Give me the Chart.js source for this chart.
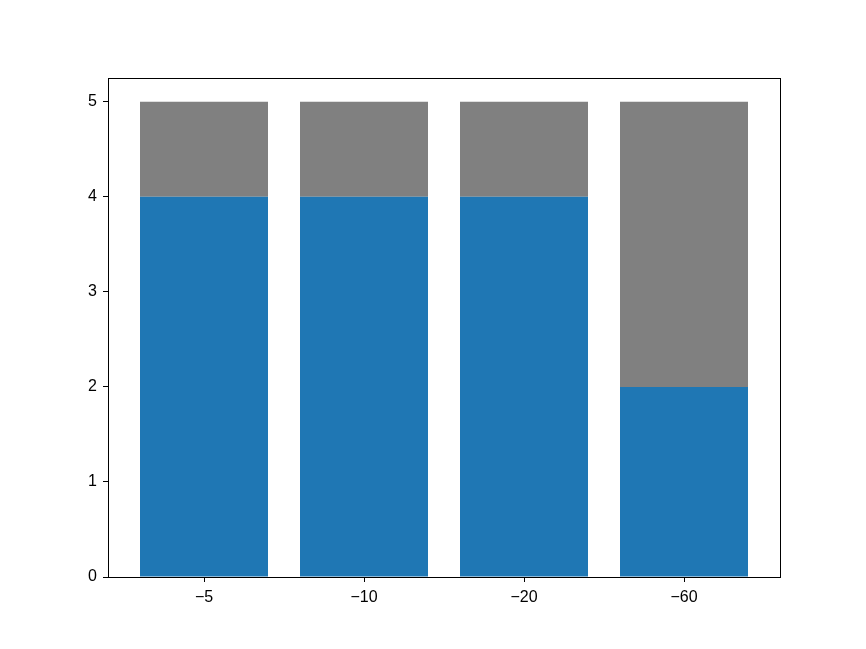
<!DOCTYPE html>
<html>
<head>
<meta charset="utf-8">
<script src="https://cdn.jsdelivr.net/npm/chart.js@4/dist/chart.umd.min.js"></script>
<style>
  html, body { margin: 0; padding: 0; background: #fff; }
  #wrap { width: 866px; height: 649px; }
</style>
</head>
<body>
<div id="wrap"><canvas id="barChart"></canvas></div>
<script>
// dados do gráfico
const categories = ['\u22125', '\u221210', '\u221220', '\u221260'];
const bottomValues = [4, 4, 4, 2];
const topValues = [1, 1, 1, 3];
const yTicks = [0, 1, 2, 3, 4, 5];

// contorno completo dos eixos (estilo matplotlib)
const frameBox = {
    id: 'frameBox',
    afterDraw(chart) {
        const { ctx, chartArea } = chart;
        ctx.save();
        ctx.strokeStyle = '#000';
        ctx.lineWidth = 1;
        ctx.strokeRect(chartArea.left + 0.5, chartArea.top + 0.5,
            chartArea.right - chartArea.left, chartArea.bottom - chartArea.top);
        ctx.restore();
    }
};

const tickFont = { family: 'Liberation Sans', size: 16 };

new Chart(document.getElementById('barChart'), {
    type: 'bar',
    data: {
        datasets: [
            {
                label: 'bottom',
                data: bottomValues.map((v, i) => ({ x: i, y: v })),
                backgroundColor: '#1f77b4',
                barPercentage: 0.8,
                categoryPercentage: 1
            },
            {
                label: 'top',
                data: topValues.map((v, i) => ({ x: i, y: v })),
                backgroundColor: '#808080',
                barPercentage: 0.8,
                categoryPercentage: 1
            }
        ]
    },
    options: {
        responsive: true,
        maintainAspectRatio: false,
        animation: false,
        layout: { padding: { left: 0, top: 78, right: 86, bottom: 0 } },
        scales: {
            x: {
                type: 'linear',
                stacked: true,
                offset: false,
                min: -0.6,
                max: 3.6,
                afterBuildTicks: (scale) => {
                    scale.ticks = categories.map((c, i) => ({ value: i }));
                },
                afterFit: (scale) => { scale.height = 72; },
                ticks: {
                    color: '#000',
                    font: tickFont,
                    padding: 6,
                    maxRotation: 0,
                    callback: (value) => categories[value]
                },
                grid: {
                    offset: false,
                    drawOnChartArea: false,
                    drawTicks: true,
                    tickLength: 5,
                    color: '#000'
                },
                border: { display: true, color: '#000' }
            },
            y: {
                stacked: true,
                min: 0,
                max: 5.25,
                afterBuildTicks: (scale) => {
                    scale.ticks = yTicks.map(v => ({ value: v }));
                },
                afterFit: (scale) => { scale.width = 108; },
                ticks: {
                    color: '#000',
                    font: tickFont,
                    padding: 6
                },
                grid: {
                    drawOnChartArea: false,
                    drawTicks: true,
                    tickLength: 5,
                    color: '#000'
                },
                border: { display: true, color: '#000' }
            }
        },
        plugins: {
            legend: { display: false },
            tooltip: { enabled: false }
        }
    },
    plugins: [frameBox]
});
</script>
</body>
</html>
